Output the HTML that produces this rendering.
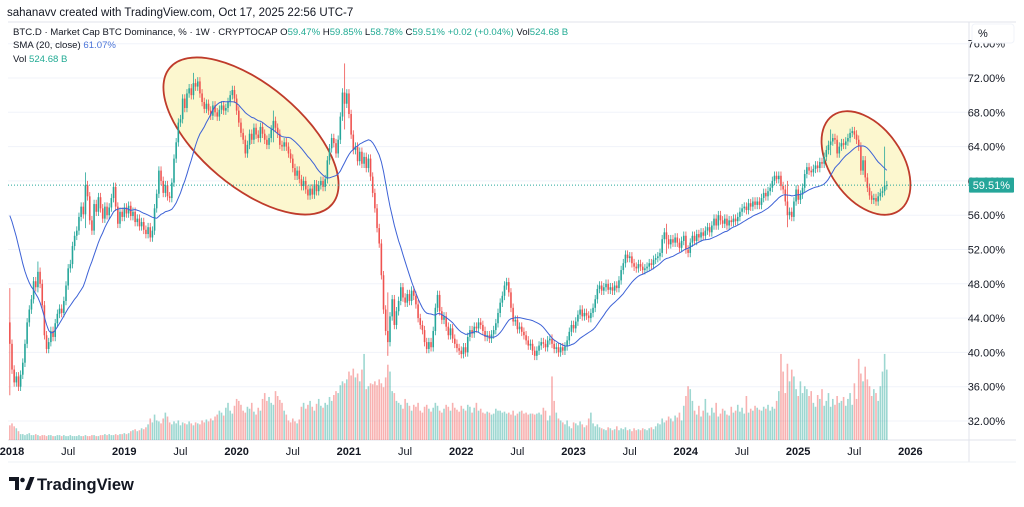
<!DOCTYPE html>
<html><head><meta charset="utf-8">
<style>
html,body{margin:0;padding:0;background:#fff;width:1024px;height:507px;overflow:hidden;font-family:"Liberation Sans",sans-serif;}
svg{display:block}
</style></head>
<body>
<svg id="chart" width="1024" height="507" viewBox="0 0 1024 507" xmlns="http://www.w3.org/2000/svg" font-family="Liberation Sans, sans-serif">
  <text x="7" y="16" font-size="11.5" fill="#131722">sahanavv created with TradingView.com, Oct 17, 2025 22:56 UTC-7</text>
  <line x1="8" y1="22" x2="1016" y2="22" stroke="#e0e3eb"/>
  <line x1="969" y1="22" x2="969" y2="462" stroke="#e0e3eb"/>
  <line x1="8" y1="440" x2="1016" y2="440" stroke="#e0e3eb"/>
  <line x1="8" y1="462" x2="1016" y2="462" stroke="#eef0f4"/>
  <g id="grid"></g>
  <g id="ellipses"></g>
  <g id="vol" clip-path="url(#clipPlot)"></g>
  <g id="candles" clip-path="url(#clipPlot)"></g>
  <g id="sma" clip-path="url(#clipPlot)"></g>
  <g id="yaxis"></g>
  <g id="last"></g>
  <g id="xaxis"></g>
  <defs><clipPath id="clipPlot"><rect x="8" y="22" width="961" height="418"/></clipPath></defs>
  <g font-size="9.6">
    <text x="13" y="35" fill="#131722">BTC.D · Market Cap BTC Dominance, % · 1W · CRYPTOCAP <tspan fill="#131722">O</tspan><tspan fill="#22ab94">59.47%</tspan><tspan fill="#131722"> H</tspan><tspan fill="#22ab94">59.85%</tspan><tspan fill="#131722"> L</tspan><tspan fill="#22ab94">58.78%</tspan><tspan fill="#131722"> C</tspan><tspan fill="#22ab94">59.51%</tspan><tspan fill="#22ab94"> +0.02 (+0.04%)</tspan><tspan fill="#131722"> Vol</tspan><tspan fill="#22ab94">524.68 B</tspan></text>
    <text x="13" y="48" fill="#131722">SMA (20, close) <tspan fill="#4a74d8">61.07%</tspan></text>
    <text x="13" y="62" fill="#131722">Vol <tspan fill="#22ab94">524.68 B</tspan></text>
  </g>
  <g>
    <path d="M9 477 h10 v13 h-4 v-9 h-6z" fill="#131722"/>
    <circle cx="22.5" cy="480" r="2.3" fill="#131722"/>
    <path d="M25 490 l5 -13 h4.5 l-5 13z" fill="#131722"/>
    <text x="37" y="490" font-size="16.5" font-weight="bold" fill="#131722">TradingView</text>
  </g>
</svg>
<script>
// ---- data ----
const closes = [41,38,36.5,37.2,36.0,37.4,38.8,41.0,43.5,45.0,
46.2,48.3,47.6,49.4,48.0,45.5,42.0,40.4,41.2,42.5,
41.8,43.4,44.5,45.1,44.6,46.0,47.8,49.8,50.3,52.4,
53.6,54.2,55.8,57.0,56.1,59.5,58.2,55.4,54.2,57.3,
56.4,58.1,56.8,55.6,57.0,56.0,56.9,58.0,59.3,57.0,
55.0,56.4,55.8,56.9,56.2,57.1,55.9,56.4,55.2,55.6,
54.7,55.2,54.3,53.8,54.6,53.4,54.2,56.8,58.5,61.2,
60.0,58.6,59.5,58.2,58.0,59.8,62.6,64.5,66.8,67.2,
69.6,68.5,70.2,70.8,70.0,71.4,71.0,71.6,70.2,69.2,
68.4,69.0,68.2,67.6,68.8,68.0,67.5,68.3,68.8,68.2,
68.5,69.2,70.0,70.6,69.6,68.2,66.8,65.6,64.8,63.2,
64.2,65.5,64.8,66.2,65.4,65.0,66.3,65.5,64.8,64.2,
65.0,66.0,67.0,66.2,65.5,64.2,64.0,64.5,64.0,63.2,
62.6,61.5,60.6,61.2,60.2,59.4,60.0,59.0,58.3,59.1,
58.4,59.6,58.8,59.5,60.0,59.3,60.2,62.4,63.8,65.0,
64.4,63.2,64.8,67.5,70.3,69.0,70.2,67.8,65.4,63.6,
64.0,62.3,63.4,62.0,62.8,61.5,62.6,60.5,58.6,56.8,
54.5,52.7,49.0,45.0,42.5,41.2,44.2,46.2,43.2,44.8,
46.0,47.6,46.4,45.8,46.8,46.0,47.2,46.6,45.6,44.0,
43.2,42.6,41.2,40.4,41.2,40.6,42.5,45.2,46.7,44.8,
43.8,44.2,43.0,42.0,42.8,41.6,41.0,40.5,40.2,39.8,
40.6,40.0,41.8,42.6,42.2,43.0,42.8,43.5,43.2,42.5,
41.8,42.0,41.6,42.1,42.6,43.4,44.6,45.8,46.6,47.8,
48.2,47.0,45.2,43.6,43.8,42.7,43.0,42.4,42.0,41.4,
40.8,41.0,40.2,39.6,40.2,40.8,41.2,41.0,40.6,41.4,
41.6,41.0,40.4,40.6,40.0,40.6,40.2,40.7,41.4,42.4,
43.2,42.8,43.6,44.4,45.0,44.2,44.6,44.3,44.0,44.6,
45.2,46.2,47.4,47.8,47.2,47.6,48.0,47.3,47.6,47.2,
47.8,47.5,48.4,49.6,50.4,51.4,51.0,51.2,50.4,50.0,
49.8,50.3,50.0,49.6,49.8,50.0,50.4,50.2,50.8,51.0,
51.2,51.6,53.2,54.0,53.2,52.6,53.2,52.8,53.4,52.8,
52.2,53.0,53.6,52.0,51.6,52.8,53.6,53.0,53.8,53.4,
54.0,53.6,54.2,54.6,54.0,54.8,55.6,54.8,56.0,55.4,
55.0,55.6,54.8,55.4,55.2,55.6,55.3,55.8,56.4,56.8,
57.0,56.6,57.4,57.0,57.6,57.2,57.6,57.2,58.0,58.6,
58.2,58.8,59.2,60.0,60.6,60.2,60.6,59.4,59.0,57.6,
56.0,56.4,55.8,57.6,59.0,57.8,58.4,59.2,60.8,61.6,
61.2,61.0,61.4,61.8,61.5,62.2,62.0,62.8,63.6,64.2,
64.6,65.0,64.8,63.2,64.0,64.4,64.2,64.6,65.0,65.6,
65.8,65.4,64.8,64.0,61.2,62.4,60.4,59.2,58.3,57.8,
58.0,57.6,58.2,58.6,58.8,59.47,59.51];
const firstOpen = 43.5;
const priorCloses = [52,54,55,57,58,60,59,58,57,56,55,57,58,60,61,60,58,55,48];
const spikeIdx = [0,13,35,85,122,155,175,304,360,380,405];
const spikeHigh = [47.5,50.6,61.0,72.6,68.2,73.7,47.0,55.0,60.0,66.0,64.0];
const spikeLow  = [35.0,47.0,54.5,69.5,64.5,66.0,39.6,51.5,54.6,63.0,58.6];
const volumes = [15,17,14,12,9,
6,6,5,6,7,5,5,6,5,4,5,5,4,5,5,4,4,5,5,4,5,4,4,5,4,4,4,5,4,4,5,4,4,5,5,4,4,5,5,6,5,6,5,5,6,5,6,6,7,6,7,
9,10,11,9,10,12,11,13,
16,22,18,26,20,19,17,22,28,24,18,
16,19,17,20,15,18,17,16,19,17,15,18,17,16,
20,18,21,19,22,20,24,
26,30,28,25,33,38,30,27,35,42,40,36,30,28,34,32,38,29,26,33,30,
42,48,40,44,38,36,50,45,41,38,30,26,
20,18,22,19,17,21,
34,38,32,36,40,34,30,37,42,35,33,38,36,44,40,46,50,48,56,60,58,
62,70,66,73,64,68,60,72,88,
52,55,58,57,60,56,62,58,54,64,77,70,50,48,
40,38,36,32,42,38,35,30,36,34,38,
30,28,34,36,32,29,33,38,35,30,28,32,36,34,30,38,33,31,29,35,32,30,36,34,28,33,38,30,32,
28,27,29,28,26,27,32,30,30,28,29,27,28,26,30,25,27,29,30,27,28,26,27,27,26,27,28,26,33,30,20,25,65,40,28,22,20,
18,16,20,14,12,18,17,15,19,16,13,15,22,28,17,14,16,13,
12,11,10,13,12,10,11,14,10,12,11,13,10,11,9,12,10,11,10,12,11,10,12,13,11,14,17,16,
22,18,20,24,22,19,25,23,28,20,35,45,55,52,
40,30,26,35,24,30,42,28,25,33,28,38,24,27,32,30,26,25,34,28,30,36,29,33,27,45,28,32,30,35,33,31,30,34,32,36,
30,34,32,40,50,
88,70,48,78,60,
72,65,52,45,60,
48,55,52,45,50,38,34,46,42,52,35,40,48,34,
42,36,45,38,40,44,35,42,48,36,58,42,
83,68,60,75,62,
55,45,52,48,40,
55,70,88,72];
const yTicks = [76,72,68,64,60,56,52,48,44,40,36,32];
const xTickLabels = ["2018","Jul","2019","Jul","2020","Jul","2021","Jul","2022","Jul","2023","Jul","2024","Jul","2025","Jul","2026"];
const xTickYears = [2018,2018.5,2019,2019.5,2020,2020.5,2021,2021.5,2022,2022.5,2023,2023.5,2024,2024.5,2025,2025.5,2026];
const lastPrice = 59.51;
const lastPriceLabel = "59.51%";

// ---- scales ----
const NS = "http://www.w3.org/2000/svg";
function yOf(p){ return 78 + (72 - p) * 8.575; }
function xOf(i){ return 9.84 + 2.16 * i; }
function xOfYear(yr){ return 12 + (yr - 2018) * 112.3; }
function vOf(v){ return v * 88 / 90; }
function mk(tag, attrs, parent){ const e=document.createElementNS(NS,tag); for(const k in attrs) e.setAttribute(k,attrs[k]); parent.appendChild(e); return e; }

const UP="#26a69a", DN="#ef5350";
const grid=document.getElementById('grid'), yax=document.getElementById('yaxis'), xax=document.getElementById('xaxis');
yTicks.forEach(t=>{
  const y=yOf(t);
  const gl=mk('line',{x1:8,x2:969,y1:y,y2:y,stroke:'#f0f3fa'},grid);
  
  
  const tx=mk('text',{x:1005,y:y+4,'font-size':11,'text-anchor':'end',fill:'#131722'},yax);
  tx.textContent=t.toFixed(2)+'%';
  
  
});
const ub=mk('rect',{x:972,y:24,width:42,height:19,fill:'#fff',stroke:'#f0f3fa',rx:3},yax);


const ut=mk('text',{x:978,y:37,'font-size':11,fill:'#131722'},yax);
ut.textContent='%';



xTickLabels.forEach((lab,k)=>{
  const t=mk('text',{x:xOfYear(xTickYears[k]),y:455,'font-size':11,'text-anchor':'middle',fill:'#131722','font-weight':lab==='Jul'?'normal':'bold'},xax);
  t.textContent=lab;
  
  
});

const eg=document.getElementById('ellipses');
const e1=mk('ellipse',{cx:251,cy:136,rx:106,ry:51,transform:'rotate(40 251 136)',fill:'#fcf7cf',stroke:'#bf3b2b','stroke-width':1.8},eg);


const e2=mk('ellipse',{cx:866,cy:163,rx:58,ry:36,transform:'rotate(55 866 163)',fill:'#fcf7cf',stroke:'#bf3b2b','stroke-width':1.8},eg);



const vg=document.getElementById('vol'), cg=document.getElementById('candles');
let prev=firstOpen;
closes.forEach((c,i)=>{
  const o=prev; prev=c;
  const up=c>=o, col=up?UP:DN;
  let hi=Math.max(o,c)+0.5, lo=Math.min(o,c)-0.5;
  const si=spikeIdx.indexOf(i);
  if(si>=0){ hi=Math.max(hi,spikeHigh[si]); lo=Math.min(lo,spikeLow[si]); }
  const x=xOf(i);
  const h=vOf(volumes[i]);
  const vb=mk('rect',{x:x-0.8,y:440-h,width:1.6,height:h,fill:up?'rgba(38,166,154,0.45)':'rgba(239,83,80,0.45)'},vg);
  
  
  const w=mk('line',{x1:x,x2:x,y1:yOf(hi),y2:yOf(lo),stroke:col,'stroke-width':0.8},cg);
  
  
  const top=yOf(Math.max(o,c)), bh=Math.max(0.8,yOf(Math.min(o,c))-top);
  const b=mk('rect',{x:x-0.8,y:top,width:1.6,height:bh,fill:col},cg);
  
  
});

const all=priorCloses.concat(closes);
let pts=[];
closes.forEach((c,i)=>{
  const j=i+priorCloses.length;
  let s=0; for(let k=j-19;k<=j;k++) s+=all[k];
  pts.push(xOf(i).toFixed(2)+','+yOf(s/20).toFixed(2));
});
const sl=mk('polyline',{points:pts.join(' '),fill:'none',stroke:'#3d62d6','stroke-width':1},document.getElementById('sma'));



const lg=document.getElementById('last');
const ly=yOf(lastPrice);
const ll=mk('line',{x1:8,x2:969,y1:ly,y2:ly,stroke:'#26a69a','stroke-width':1,'stroke-dasharray':'1 2'},lg);


const lb=mk('rect',{x:969,y:ly-7.5,width:45,height:15,fill:'#26a69a',rx:1},lg);


const lt=mk('text',{x:1010,y:ly+4,'font-size':11,'text-anchor':'end',fill:'#fff'},lg);
lt.textContent=lastPriceLabel;


</script>
</body></html>
